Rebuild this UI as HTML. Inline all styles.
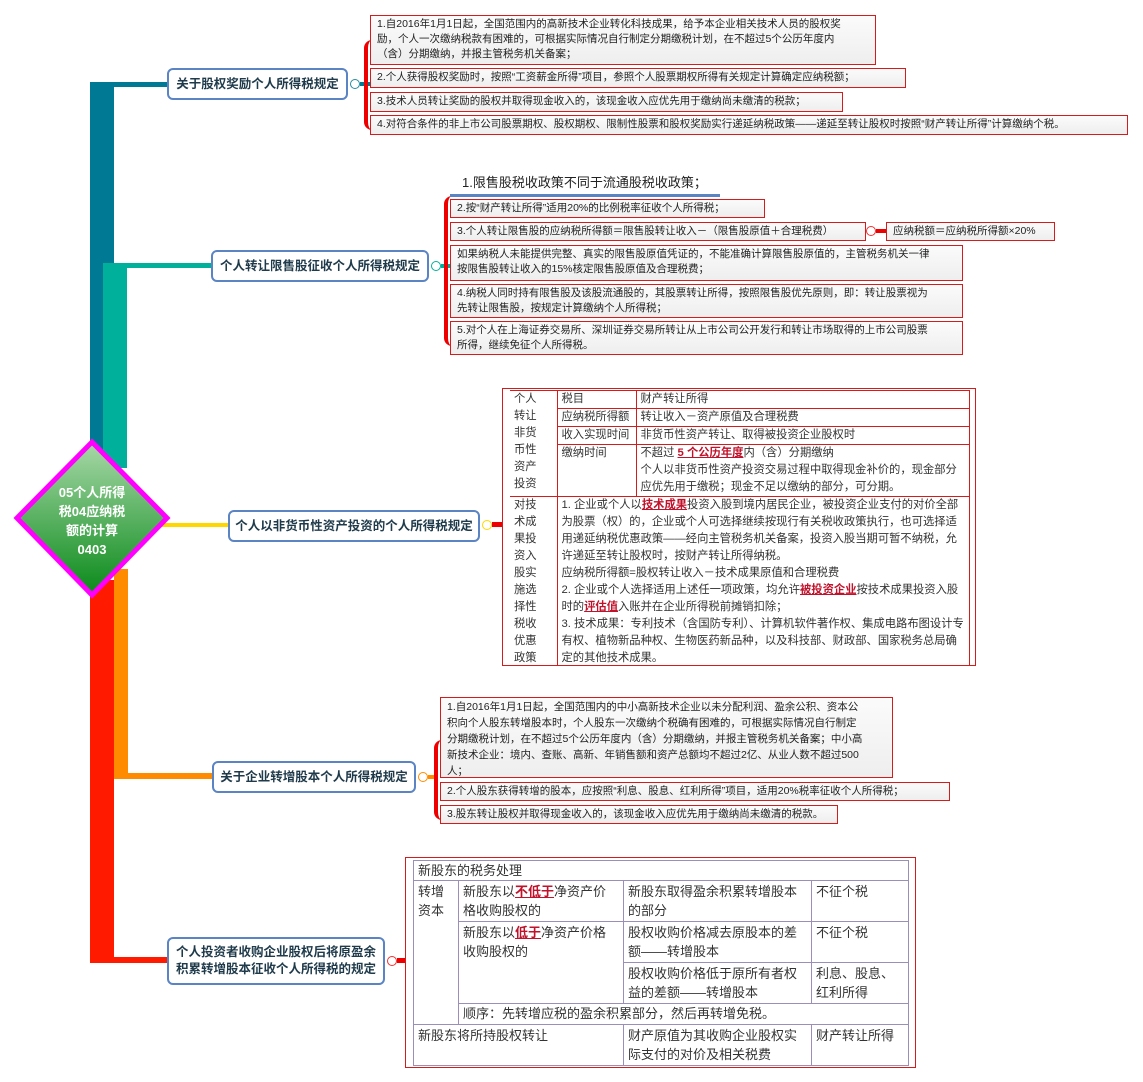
<!DOCTYPE html>
<html><head><meta charset="utf-8"><style>
*{margin:0;padding:0;box-sizing:border-box}
body{width:1143px;height:1082px;background:#fff;position:relative;overflow:hidden;font-family:"Liberation Sans","Noto Sans CJK SC",sans-serif;color:#222}
.a{position:absolute}
.n{position:absolute;border:2px solid #5b84c4;border-radius:6px;background:#fff;color:#1f3a4a;font-size:12.5px;font-weight:bold;display:flex;align-items:center;justify-content:center;text-align:center;line-height:17px}
.b{position:absolute;border:1px solid #d31c1c;background:linear-gradient(#fbfbfb,#eeeeee);font-size:10.5px;line-height:15px;padding:1px 6px;color:#222;white-space:nowrap}
.c{position:absolute;width:10px;height:10px;border-radius:50%;background:#fff;border:1.5px solid #2a8aa0}
table{border-collapse:collapse;table-layout:fixed}
td{vertical-align:top;overflow:hidden}
.u{color:#c0122b;font-weight:bold;text-decoration:underline}
</style></head><body>

<div class="a" style="left:90px;top:82px;width:24px;height:400px;background:#007a94"></div>
<div class="a" style="left:90px;top:82px;width:77px;height:5px;background:#007a94"></div>
<div class="a" style="left:103px;top:263px;width:24px;height:205px;background:#00b09a"></div>
<div class="a" style="left:103px;top:263px;width:108px;height:5px;background:#00b09a"></div>
<div class="a" style="left:160px;top:523px;width:68px;height:4px;background:#ffd700"></div>
<div class="a" style="left:114px;top:569px;width:14px;height:210px;background:#ff8c00"></div>
<div class="a" style="left:114px;top:773px;width:98px;height:6px;background:#ff8c00"></div>
<div class="a" style="left:90px;top:580px;width:24px;height:383px;background:#ff1a00"></div>
<div class="a" style="left:90px;top:957px;width:77px;height:6px;background:#ff1a00"></div>

<svg class="a" style="left:12px;top:437px" width="162" height="164">
<defs><linearGradient id="g" x1="0" y1="0" x2="0" y2="1"><stop offset="0" stop-color="#a8d8a8"/><stop offset="1" stop-color="#0a8a1a"/></linearGradient></defs>
<polygon points="80,5 155,81 80,158 5,81" fill="url(#g)" stroke="#ff00ff" stroke-width="5"/>
</svg>
<div class="a" style="left:40px;top:483px;width:104px;text-align:center;color:#fff;font-weight:bold;font-size:13px;line-height:19px">05个人所得<br>税04应纳税<br>额的计算<br>0403</div>

<div class="n" style="left:167px;top:68px;width:181px;height:32px">关于股权奖励个人所得税规定</div>
<div class="c" style="left:350px;top:79px"></div>
<div class="a" style="left:360px;top:82px;width:10px;height:4px;background:#007a94"></div>
<div class="n" style="left:211px;top:250px;width:218px;height:32px">个人转让限售股征收个人所得税规定</div>
<div class="c" style="left:431px;top:261px;border-color:#00b09a"></div>
<div class="a" style="left:441px;top:264px;width:9px;height:4px;background:#00b09a"></div>
<div class="n" style="left:228px;top:510px;width:252px;height:32px">个人以非货币性资产投资的个人所得税规定</div>
<div class="c" style="left:482px;top:520px;border-color:#ffd700"></div>
<div class="a" style="left:492px;top:522px;width:10px;height:5px;background:#e00"></div>
<div class="n" style="left:212px;top:761px;width:204px;height:32px">关于企业转增股本个人所得税规定</div>
<div class="c" style="left:418px;top:772px;border-color:#ff8c00"></div>
<div class="a" style="left:428px;top:775px;width:10px;height:4px;background:#ff8c00"></div>
<div class="n" style="left:167px;top:937px;width:218px;height:48px">个人投资者收购企业股权后将原盈余<br>积累转增股本征收个人所得税的规定</div>
<div class="c" style="left:387px;top:956px;border-color:#e33"></div>
<div class="a" style="left:397px;top:958px;width:9px;height:5px;background:#e00"></div>

<div class="a" style="left:364px;top:40px;width:8px;height:90px;border-left:4px solid #e00;border-radius:8px 0 0 8px"></div>
<div class="a" style="left:444px;top:196px;width:8px;height:150px;border-left:4px solid #e00;border-radius:8px 0 0 8px"></div>
<div class="a" style="left:434px;top:740px;width:8px;height:80px;border-left:4px solid #e00;border-radius:8px 0 0 8px"></div>

<div class="b" style="left:370px;top:15px;width:506px;height:50px">1.自2016年1月1日起，全国范围内的高新技术企业转化科技成果，给予本企业相关技术人员的股权奖<br>励，个人一次缴纳税款有困难的，可根据实际情况自行制定分期缴税计划，在不超过5个公历年度内<br>（含）分期缴纳，并报主管税务机关备案；</div>
<div class="b" style="left:370px;top:68px;width:536px;height:20px">2.个人获得股权奖励时，按照“工资薪金所得”项目，参照个人股票期权所得有关规定计算确定应纳税额；</div>
<div class="b" style="left:370px;top:92px;width:473px;height:20px">3.技术人员转让奖励的股权并取得现金收入的，该现金收入应优先用于缴纳尚未缴清的税款；</div>
<div class="b" style="left:370px;top:115px;width:758px;height:20px">4.对符合条件的非上市公司股票期权、股权期权、限制性股票和股权奖励实行递延纳税政策——递延至转让股权时按照“财产转让所得”计算缴纳个税。</div>

<div class="a" style="left:462px;top:174px;font-size:13px;line-height:17px">1.限售股税收政策不同于流通股税收政策；</div>
<div class="a" style="left:450px;top:194px;width:270px;height:3px;background:#5b84c4"></div>
<div class="b" style="left:450px;top:199px;width:315px;height:19px">2.按“财产转让所得”适用20%的比例税率征收个人所得税；</div>
<div class="b" style="left:450px;top:222px;width:416px;height:19px">3.个人转让限售股的应纳税所得额＝限售股转让收入－（限售股原值＋合理税费）</div>
<div class="c" style="left:866px;top:226px;border-color:#e33"></div>
<div class="a" style="left:876px;top:229px;width:10px;height:4px;background:#e00"></div>
<div class="b" style="left:886px;top:222px;width:169px;height:19px">应纳税额＝应纳税所得额×20%</div>
<div class="b" style="left:450px;top:245px;width:513px;height:36px">如果纳税人未能提供完整、真实的限售股原值凭证的，不能准确计算限售股原值的，主管税务机关一律<br>按限售股转让收入的15%核定限售股原值及合理税费；</div>
<div class="b" style="left:450px;top:284px;width:513px;height:34px">4.纳税人同时持有限售股及该股流通股的，其股票转让所得，按照限售股优先原则，即：转让股票视为<br>先转让限售股，按规定计算缴纳个人所得税；</div>
<div class="b" style="left:450px;top:321px;width:513px;height:34px">5.对个人在上海证券交易所、深圳证券交易所转让从上市公司公开发行和转让市场取得的上市公司股票<br>所得，继续免征个人所得税。</div>

<div class="a" style="left:502px;top:388px;width:474px;height:278px;border:1.5px solid #d31c1c;background:#fff;overflow:hidden">
<table style="position:absolute;left:7px;top:1px;width:460px;font-size:11.3px;line-height:17px;color:#333">
<colgroup><col style="width:47px"><col style="width:79px"><col></colgroup>
<tr><td rowspan="4" style="border:1px solid #d31c1c;border-left:none;padding:0 4px">个人<br>转让<br>非货<br>币性<br>资产<br>投资</td>
<td style="border:1px solid #d31c1c;padding:0 4px">税目</td><td style="border:1px solid #d31c1c;padding:0 4px">财产转让所得</td></tr>
<tr><td style="border:1px solid #d31c1c;padding:0 4px;white-space:nowrap">应纳税所得额</td><td style="border:1px solid #d31c1c;padding:0 4px">转让收入－资产原值及合理税费</td></tr>
<tr><td style="border:1px solid #d31c1c;padding:0 4px;white-space:nowrap">收入实现时间</td><td style="border:1px solid #d31c1c;padding:0 4px">非货币性资产转让、取得被投资企业股权时</td></tr>
<tr><td style="border:1px solid #d31c1c;padding:0 4px;height:52px">缴纳时间</td><td style="border:1px solid #d31c1c;padding:0 4px">不超过 <span class="u">5 个公历年度</span>内（含）分期缴纳<br>个人以非货币性资产投资交易过程中取得现金补价的，现金部分应优先用于缴税；现金不足以缴纳的部分，可分期。</td></tr>
<tr><td style="border:1px solid #d31c1c;border-left:none;border-bottom:none;padding:0 4px">对技<br>术成<br>果投<br>资入<br>股实<br>施选<br>择性<br>税收<br>优惠<br>政策</td>
<td colspan="2" style="border:1px solid #d31c1c;border-bottom:none;padding:0 4px">1. 企业或个人以<span class="u">技术成果</span>投资入股到境内居民企业，被投资企业支付的对价全部为股票（权）的，企业或个人可选择继续按现行有关税收政策执行，也可选择适用递延纳税优惠政策——经向主管税务机关备案，投资入股当期可暂不纳税，允许递延至转让股权时，按财产转让所得纳税。<br>应纳税所得额=股权转让收入－技术成果原值和合理税费<br>2. 企业或个人选择适用上述任一项政策，均允许<span class="u">被投资企业</span>按技术成果投资入股时的<span class="u">评估值</span>入账并在企业所得税前摊销扣除；<br>3. 技术成果：专利技术（含国防专利）、计算机软件著作权、集成电路布图设计专有权、植物新品种权、生物医药新品种，以及科技部、财政部、国家税务总局确定的其他技术成果。</td></tr>
</table></div>

<div class="b" style="left:440px;top:697px;width:453px;height:81px;line-height:16px">1.自2016年1月1日起，全国范围内的中小高新技术企业以未分配利润、盈余公积、资本公<br>积向个人股东转增股本时，个人股东一次缴纳个税确有困难的，可根据实际情况自行制定<br>分期缴税计划，在不超过5个公历年度内（含）分期缴纳，并报主管税务机关备案；中小高<br>新技术企业：境内、查账、高新、年销售额和资产总额均不超过2亿、从业人数不超过500<br>人；</div>
<div class="b" style="left:440px;top:782px;width:510px;height:19px">2.个人股东获得转增的股本，应按照“利息、股息、红利所得”项目，适用20%税率征收个人所得税；</div>
<div class="b" style="left:440px;top:805px;width:398px;height:19px">3.股东转让股权并取得现金收入的，该现金收入应优先用于缴纳尚未缴清的税款。</div>

<div class="a" style="left:405px;top:857px;width:511px;height:211px;border:1.5px solid #d31c1c;background:#fff;overflow:hidden">
<table style="position:absolute;left:7px;top:2px;width:496px;font-size:13px;line-height:19px;color:#333">
<colgroup><col style="width:45px"><col style="width:165px"><col style="width:188px"><col></colgroup>
<tr><td colspan="4" style="border:1px solid #9a8fb8;padding:0 4px;height:20px">新股东的税务处理</td></tr>
<tr><td rowspan="4" style="border:1px solid #9a8fb8;padding:1px 4px">转增<br>资本</td>
<td style="border:1px solid #9a8fb8;padding:1px 4px;height:39px">新股东以<span class="u">不低于</span>净资产价格收购股权的</td>
<td style="border:1px solid #9a8fb8;padding:1px 4px">新股东取得盈余积累转增股本的部分</td>
<td style="border:1px solid #9a8fb8;padding:1px 4px">不征个税</td></tr>
<tr><td rowspan="2" style="border:1px solid #9a8fb8;padding:1px 4px">新股东以<span class="u">低于</span>净资产价格收购股权的</td>
<td style="border:1px solid #9a8fb8;padding:1px 4px;height:41px">股权收购价格减去原股本的差额——转增股本</td>
<td style="border:1px solid #9a8fb8;padding:1px 4px">不征个税</td></tr>
<tr><td style="border:1px solid #9a8fb8;padding:1px 4px;height:39px">股权收购价格低于原所有者权益的差额——转增股本</td>
<td style="border:1px solid #9a8fb8;padding:1px 4px">利息、股息、红利所得</td></tr>
<tr><td colspan="3" style="border:1px solid #9a8fb8;padding:0 4px;height:21px">顺序：先转增应税的盈余积累部分，然后再转增免税。</td></tr>
<tr><td colspan="2" style="border:1px solid #9a8fb8;padding:1px 4px;height:40px">新股东将所持股权转让</td>
<td style="border:1px solid #9a8fb8;padding:1px 4px">财产原值为其收购企业股权实际支付的对价及相关税费</td>
<td style="border:1px solid #9a8fb8;padding:1px 4px">财产转让所得</td></tr>
</table></div>

</body></html>
